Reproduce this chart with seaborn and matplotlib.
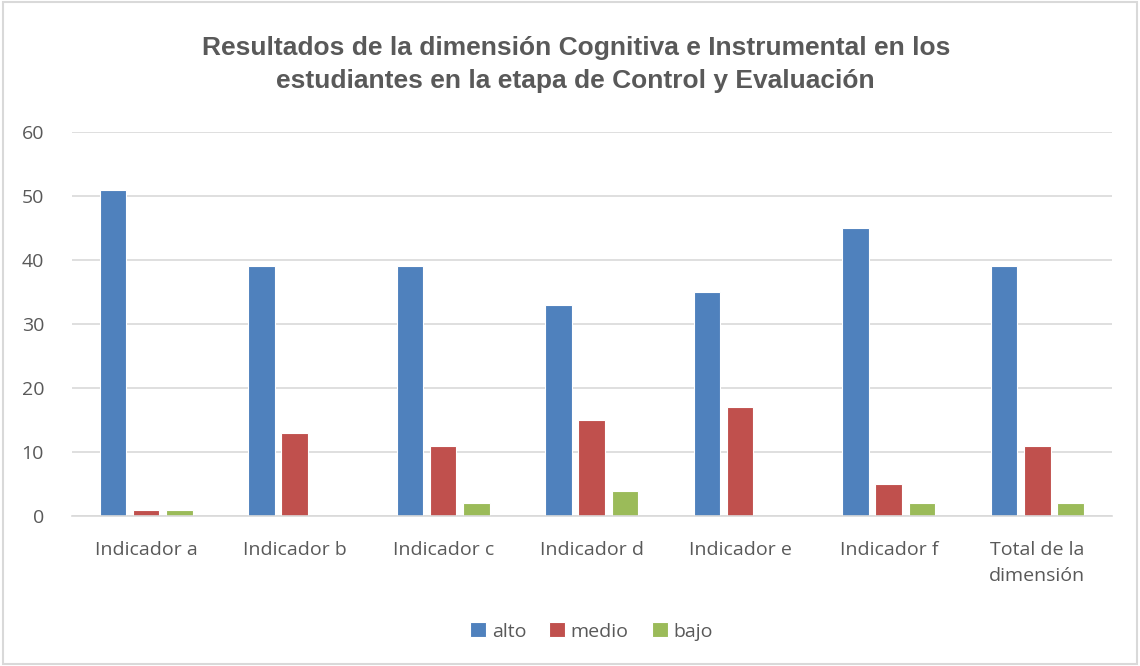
import numpy as np
import pandas as pd
import matplotlib
matplotlib.use("Agg")
import matplotlib.pyplot as plt
import seaborn as sns

categories = ["Indicador a", "Indicador b", "Indicador c", "Indicador d",
              "Indicador e", "Indicador f", "Total de la\ndimensión"]
series_names = ["alto", "medio", "bajo"]
alto = [51, 39, 39, 33, 35, 45, 39]
medio = [1, 13, 11, 15, 17, 5, 11]
bajo = [1, 0, 2, 4, 0, 2, 2]
colors = ["#4F81BD", "#C0504D", "#9BBB59"]

df = pd.DataFrame({"categoria": categories, "alto": alto, "medio": medio, "bajo": bajo})
long = df.melt(id_vars="categoria", var_name="nivel", value_name="valor")

sns.set_style("white")
plt.rcParams["font.family"] = ["Open Sans", "DejaVu Sans"]

fig = plt.figure(figsize=(11.4, 6.66), dpi=100)
ax = fig.add_axes([0.063, 0.225, 0.912, 0.577])

sns.barplot(data=long, x="categoria", y="valor", hue="nivel", hue_order=series_names,
            palette=colors, saturation=1, width=0.67, gap=0.2, ax=ax, legend=True,
            edgecolor="white", linewidth=0.8)

ax.set_ylim(0, 60)
ax.set_yticks(range(0, 61, 10))
ax.set_xlim(-0.5, len(categories) - 0.5)
ax.yaxis.grid(True, color="#d9d9d9", linewidth=1.2)
ax.set_axisbelow(True)
for s in ["top", "right", "left"]:
    ax.spines[s].set_visible(False)
ax.spines["bottom"].set_color("#d9d9d9")
ax.spines["bottom"].set_linewidth(1.2)
ax.tick_params(axis="both", length=0, labelsize=14, colors="#595959")
ax.tick_params(axis="y", pad=20)
ax.tick_params(axis="x", pad=18)
for lab in ax.get_xticklabels():
    lab.set_va("top")
    lab.set_linespacing(1.55)
ax.set_xlabel("")
ax.set_ylabel("")

ax.legend(loc="center", bbox_to_anchor=(0.5, -0.30), ncol=3, frameon=False,
          fontsize=14, handlelength=0.8, handleheight=0.8, columnspacing=1.2,
          handletextpad=0.3, labelcolor="#595959")

fig.text(0.505, 0.903, "Resultados de la dimensión Cognitiva e Instrumental en los\n"
         "estudiantes en la etapa de Control y Evaluación",
         ha="center", va="center", fontsize=19, fontweight="bold", color="#595959",
         family=["Liberation Sans", "DejaVu Sans"], linespacing=1.5)

border = plt.Rectangle((0.003, 0.003), 0.994, 0.994, transform=fig.transFigure,
                       fill=False, edgecolor="#d9d9d9", linewidth=1.5)
fig.patches.append(border)

fig.savefig("out.png", dpi=100)
